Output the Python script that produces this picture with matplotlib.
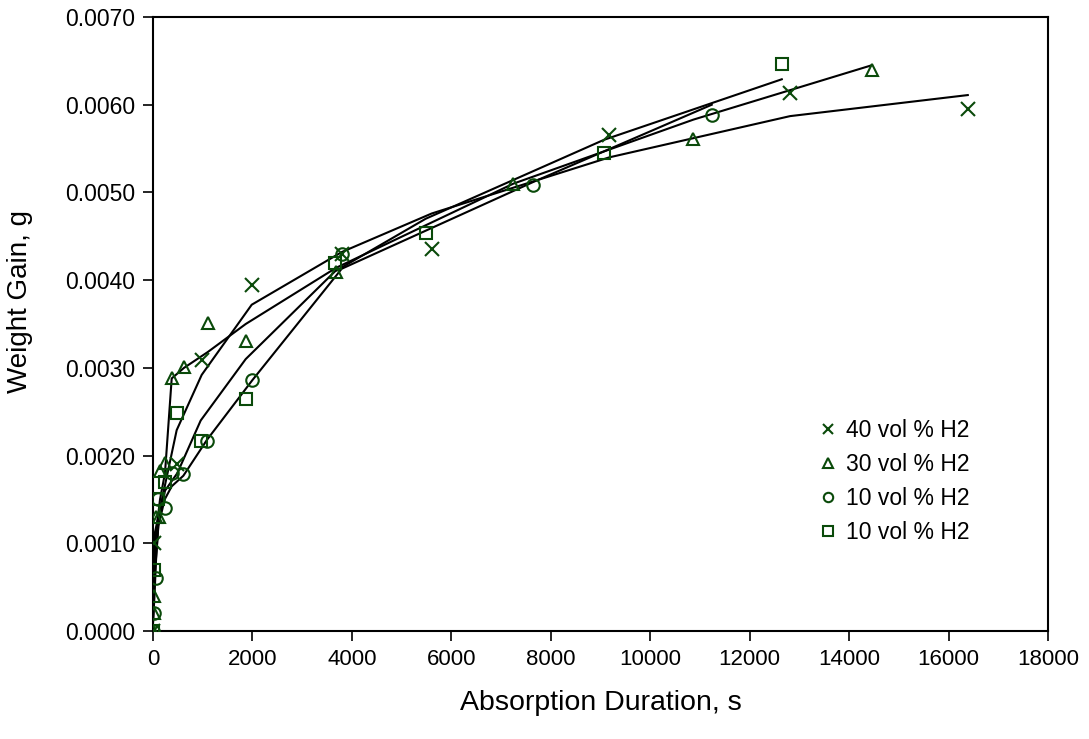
import matplotlib.pyplot as plt
from matplotlib.ticker import FormatStrFormatter

plt.rcParams['font.family'] = ['Liberation Sans', 'DejaVu Sans']

green = '#0a4a0a'

# measured points (time in s, weight gain in g)
t40 = [0, 30, 476, 979, 1985, 3795, 5605, 9177, 12812, 16386]
w40 = [0.0, 0.0010, 0.0019, 0.00309, 0.00395, 0.0043, 0.00436, 0.00566, 0.00613, 0.00595]
t30 = [0, 10, 20, 60, 120, 141, 241, 376, 623, 1100, 1864, 3680, 7247, 10867, 14455]
w30 = [0.0, 0.0002, 0.0004, 0.0013, 0.0013, 0.00182, 0.00191, 0.00289, 0.00301, 0.00351,
       0.00331, 0.00409, 0.0051, 0.00561, 0.0064]
t10a = [0, 30, 60, 107, 235, 376, 610, 1086, 1998, 3795, 7650, 11237]
w10a = [0.0, 0.0002, 0.0006, 0.0015, 0.0014, 0.0018, 0.00179, 0.00217, 0.00286, 0.0043,
        0.00509, 0.00588]
t10b = [0, 30, 107, 241, 489, 959, 1864, 3660, 5484, 9070, 12645]
w10b = [0.0, 0.0007, 0.0015, 0.0017, 0.00249, 0.00217, 0.00265, 0.00419, 0.00454, 0.00545,
        0.00646]

# fitted curve values, at the same times
f40 = [0.0002, 0.0011, 0.00229, 0.00292, 0.00372, 0.00432, 0.00476, 0.0054, 0.00587, 0.00611]
f30 = [0.0001, 0.0004, 0.0006, 0.0011, 0.0014, 0.0015, 0.0018, 0.00288, 0.0030, 0.00318,
       0.0035, 0.00414, 0.0051, 0.00583, 0.00645]
f10a = [0.0001, 0.0004, 0.0008, 0.0012, 0.0015, 0.00165, 0.00177, 0.00218, 0.00286, 0.00413,
        0.00512, 0.0060]
f10b = [0.0001, 0.0006, 0.0012, 0.0016, 0.0018, 0.0024, 0.0031, 0.0041, 0.0047, 0.0056,
        0.00629]

labels = ['40 vol % H2', '30 vol % H2', '10 vol % H2', '10 vol % H2']

fig = plt.figure(figsize=(10.89, 7.39), dpi=100)
ax = fig.add_axes([0.1405, 0.1461, 0.8219, 0.8309])

series = [(t40, w40, f40, 'x'), (t30, w30, f30, '^'), (t10a, w10a, f10a, 'o'), (t10b, w10b, f10b, 's')]
handles = []
for (t, w, f, m), lab in zip(series, labels):
    ax.plot(t, f, color='black', lw=1.5, zorder=2)
    h, = ax.plot(t, w, ls='none', marker=m, ms=10 if m == 'x' else 9, mfc='none',
                 mec=green, mew=1.5, label=lab, zorder=3)
    handles.append(h)

ax.set_xlim(0, 18000)
ax.set_ylim(0, 0.007)
ax.set_xticks(range(0, 18001, 2000))
ax.set_yticks([i * 0.001 for i in range(8)])
ax.yaxis.set_major_formatter(FormatStrFormatter('%.4f'))
ax.tick_params(direction='out', length=7, width=1.2, colors='black')
ax.tick_params(axis='x', labelsize=16, pad=6)
ax.tick_params(axis='y', labelsize=16.5, pad=6)
for s in ax.spines.values():
    s.set_linewidth(1.5)

ax.set_xlabel('Absorption Duration, s', fontsize=20.5, labelpad=14)
ax.set_ylabel('Weight Gain, g', fontsize=20)
ax.yaxis.set_label_coords(-0.134, 0.536)

fig.legend(handles=handles, loc='upper left', bbox_to_anchor=(0.735, 0.4614), frameon=False,
           fontsize=16.5, markerscale=0.75, handlelength=0.6, handletextpad=0.5,
           labelspacing=0.48, borderpad=0.4)

fig.savefig('out.png', dpi=100)
